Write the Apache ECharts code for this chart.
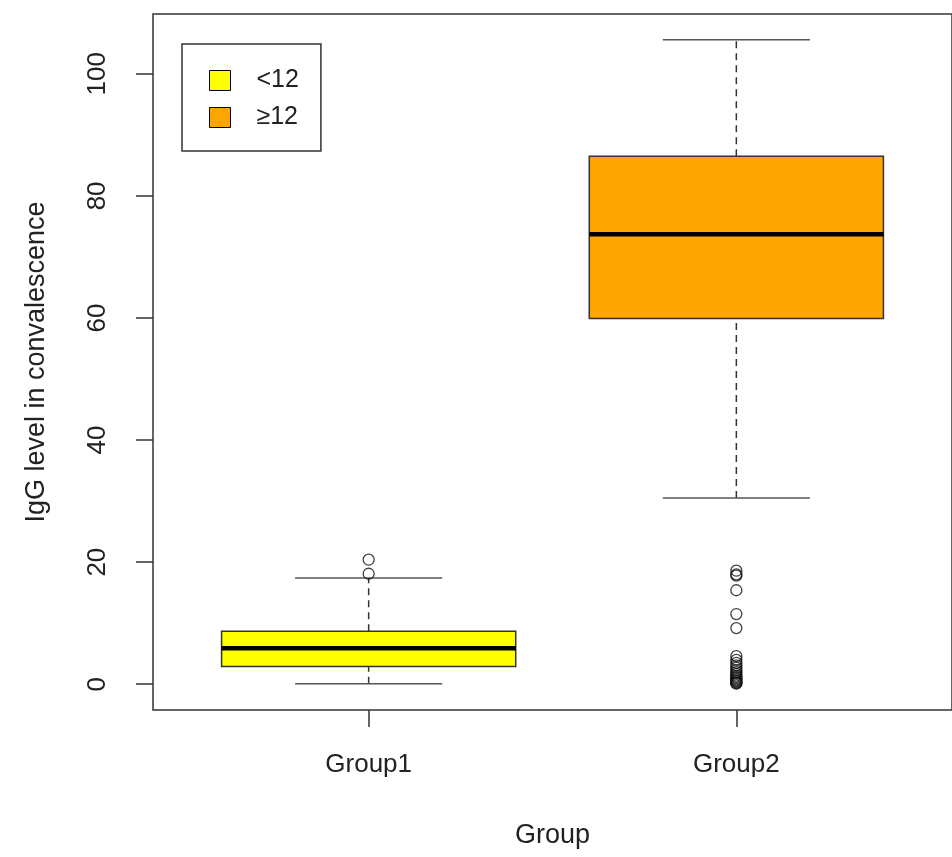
<!DOCTYPE html>
<html>
<head>
<meta charset="utf-8">
<script src="https://cdn.jsdelivr.net/npm/echarts@6/dist/echarts.min.js"></script>
<style>html,body{margin:0;padding:0;background:#fff;}#c{width:952px;height:857px;}</style>
</head>
<body>
<div id="c"></div>
<script>
const categories = ['Group1', 'Group2'];
const legendNames = ['<12', '≥12'];
const boxColors = ['#FFFF00', '#FFA500'];
// [lower whisker, Q1, median, Q3, upper whisker]
const statsGroup1 = [0.1, 2.9, 5.9, 8.7, 17.4];
const statsGroup2 = [30.5, 59.9, 73.7, 86.5, 105.6];
const outliersGroup1 = [20.4, 18.1];
const outliersGroup2 = [18.6, 18.0, 17.8, 15.4, 11.5, 9.2, 4.6, 4.0, 3.5, 3.1, 2.7, 2.3, 2.0, 1.7, 1.4, 1.2, 1.0, 0.8, 0.6, 0.5, 0.3, 0.2, 0.1];
const yTicks = [0, 20, 40, 60, 80, 100];
const xTicks = [1, 2];

const FONT = 'Liberation Sans, Arial, sans-serif';
const TXT = '#222';
const BOXW = 0.8, CAPW = 0.4;

function renderBox(params, api) {
  const x = api.value(0);
  const lo = api.value(1), q1 = api.value(2), med = api.value(3), q3 = api.value(4), hi = api.value(5);
  const pL = api.coord([x - BOXW / 2, q3]);
  const pR = api.coord([x + BOXW / 2, q1]);
  const cL = api.coord([x - CAPW / 2, lo])[0];
  const cR = api.coord([x + CAPW / 2, lo])[0];
  const cx = api.coord([x, 0])[0];
  const yLo = api.coord([x, lo])[1], yQ1 = pR[1], yMed = api.coord([x, med])[1], yQ3 = pL[1], yHi = api.coord([x, hi])[1];
  const fill = api.visual('color');
  const whisk = { stroke: '#333', lineWidth: 1.5, lineDash: [7, 5] };
  const cap = { stroke: '#555', lineWidth: 1.5 };
  return {
    type: 'group',
    children: [
      { type: 'line', shape: { x1: cx, y1: yQ3, x2: cx, y2: yHi }, style: whisk },
      { type: 'line', shape: { x1: cx, y1: yLo, x2: cx, y2: yQ1 }, style: whisk },
      { type: 'line', shape: { x1: cL, y1: yHi, x2: cR, y2: yHi }, style: cap },
      { type: 'line', shape: { x1: cL, y1: yLo, x2: cR, y2: yLo }, style: cap },
      { type: 'rect', shape: { x: pL[0], y: yQ3, width: pR[0] - pL[0], height: yQ1 - yQ3 }, style: { fill: fill, stroke: '#333', lineWidth: 1.5 } },
      { type: 'line', shape: { x1: pL[0], y1: yMed, x2: pR[0], y2: yMed }, style: { stroke: '#000', lineWidth: 4.5 } }
    ]
  };
}

const chart = echarts.init(document.getElementById('c'));
chart.setOption({
  animation: false,
  backgroundColor: '#fff',
  grid: { left: 153, top: 14, width: 804, height: 696, show: true, borderColor: '#333', borderWidth: 1.5, backgroundColor: 'transparent' },
  legend: {
    data: legendNames,
    orient: 'vertical',
    left: 182, top: 44,
    padding: [24, 22, 21, 27],
    itemGap: 12,
    itemWidth: 21, itemHeight: 20,
    icon: 'rect',
    borderColor: '#333', borderWidth: 1.5,
    itemStyle: { borderColor: '#000', borderWidth: 1 },
    textStyle: { fontFamily: FONT, fontSize: 25, color: TXT, padding: [0, 0, 0, 21], lineHeight: 22 }
  },
  xAxis: {
    type: 'value', min: 0.4135, max: 2.5865,
    name: 'Group', nameLocation: 'middle', nameGap: 112,
    nameTextStyle: { fontFamily: FONT, fontSize: 27, color: TXT },
    axisLine: { show: false, onZero: false },
    splitLine: { show: false },
    axisTick: { show: true, customValues: xTicks, length: 17, lineStyle: { color: '#333', width: 1.5 } },
    axisLabel: { customValues: xTicks, formatter: v => categories[Math.round(v) - 1], margin: 42, fontFamily: FONT, fontSize: 26, color: TXT }
  },
  yAxis: {
    type: 'value', min: -4.22, max: 109.8,
    name: 'IgG level in convalescence', nameLocation: 'middle', nameGap: 103,
    nameTextStyle: { fontFamily: FONT, fontSize: 27, color: TXT },
    axisLine: { show: false, onZero: false },
    splitLine: { show: false },
    axisTick: { show: true, customValues: yTicks, length: 17, lineStyle: { color: '#333', width: 1.5 } },
    axisLabel: { customValues: yTicks, rotate: 90, margin: 42, fontFamily: FONT, fontSize: 26, color: TXT }
  },
  series: [
    { name: legendNames[0], type: 'custom', renderItem: renderBox, itemStyle: { color: boxColors[0] }, encode: { x: 0, y: [1, 2, 3, 4, 5] }, data: [[xTicks[0]].concat(statsGroup1)], z: 2 },
    { name: legendNames[1], type: 'custom', renderItem: renderBox, itemStyle: { color: boxColors[1] }, encode: { x: 0, y: [1, 2, 3, 4, 5] }, data: [[xTicks[1]].concat(statsGroup2)], z: 2 },
    { name: 'outliers1', type: 'scatter', symbol: 'circle', symbolSize: 11, z: 3,
      itemStyle: { color: 'rgba(0,0,0,0)', borderColor: '#111', borderWidth: 1.3 },
      data: outliersGroup1.map(v => [xTicks[0], v]) },
    { name: 'outliers2', type: 'scatter', symbol: 'circle', symbolSize: 11, z: 3,
      itemStyle: { color: 'rgba(0,0,0,0)', borderColor: '#111', borderWidth: 1.3 },
      data: outliersGroup2.map(v => [xTicks[1], v]) }
  ]
});
</script>
</body>
</html>
